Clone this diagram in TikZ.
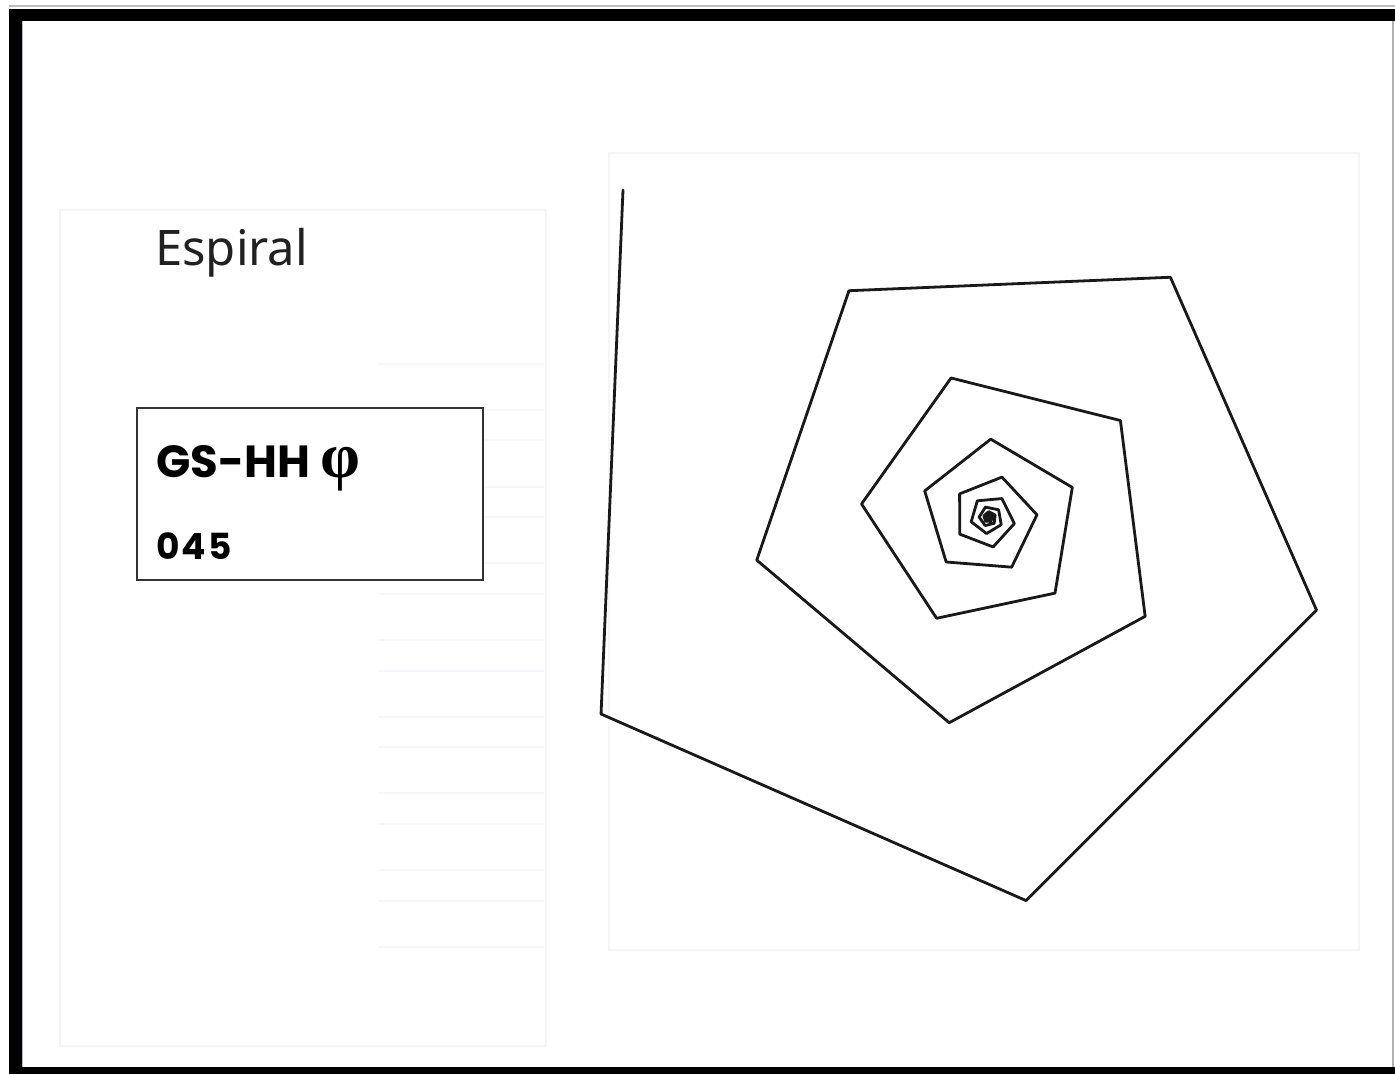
\documentclass[tikz,border=0pt]{standalone}
\usepackage{fontspec}
\setmainfont{Noto Sans}
\newfontfamily\geofont{Poppins}
\newfontfamily\phifont{Liberation Serif}
\begin{document}
\begin{tikzpicture}[x=1pt,y=-1pt,
  panel/.style={draw=black!4,line width=1.2pt},
  ruleline/.style={draw=black!10!blue!3!white,line width=2.2pt},
  framefill/.style={fill=black},
  spiral/.style={draw=black!90,line width=2.8pt,line join=round,line cap=round},
  infobox/.style={draw=black!80,line width=1.6pt,fill=white}]
\useasboundingbox (0,0) rectangle (1395,1074);
\fill[white] (0,0) rectangle (1395,1074);
% frame
\draw[black!25,line width=1.2pt] (9,6) -- (1395,6);
\fill[framefill] (9,9) rectangle (1395,20.5);
\fill[framefill] (9,9) rectangle (22,1074);
\fill[framefill] (9,1067) rectangle (1395,1074);
\draw[blue!40!black!30,line width=1pt] (22.5,20.5) -- (22.5,1067);
\draw[black!30,line width=1.2pt] (1393,20.5) -- (1393,1067);
% panels
\draw[panel] (60,210) rectangle (546,1046);
\draw[panel] (609,153) rectangle (1359,950);
% faint rule lines
\foreach \yy in {364,410,440,487,517,563,594,640,671,717,747,793,824,870,901,947}
  \draw[ruleline] (378,\yy) -- (544,\yy);
% title
\node[anchor=base west,inner sep=0pt,text=black!87,font=\fontsize{49}{51}\selectfont] (title) at (155,265) {Espiral};
% info box
\draw[infobox] (137,408) rectangle (483,580);
\node[anchor=base west,inner sep=0pt,font=\geofont\bfseries\fontsize{45}{47}\selectfont] (code) at (156,477) {GS-HH};
\node[anchor=base west,inner sep=0pt,font=\phifont\bfseries\fontsize{64}{66}\selectfont] (phi) at (320,477) {φ};
\node[anchor=base west,inner sep=0pt,font=\geofont\bfseries\fontsize{36}{38}\selectfont] (num) at (156,559) {0\kern2pt4\kern2pt5};
% spiral
\draw[spiral] (623,190) \foreach \i in {0,...,72} { -- ++({92.4-68.7*\i}:{524.5*0.885^\i}) };
\end{tikzpicture}
\end{document}
